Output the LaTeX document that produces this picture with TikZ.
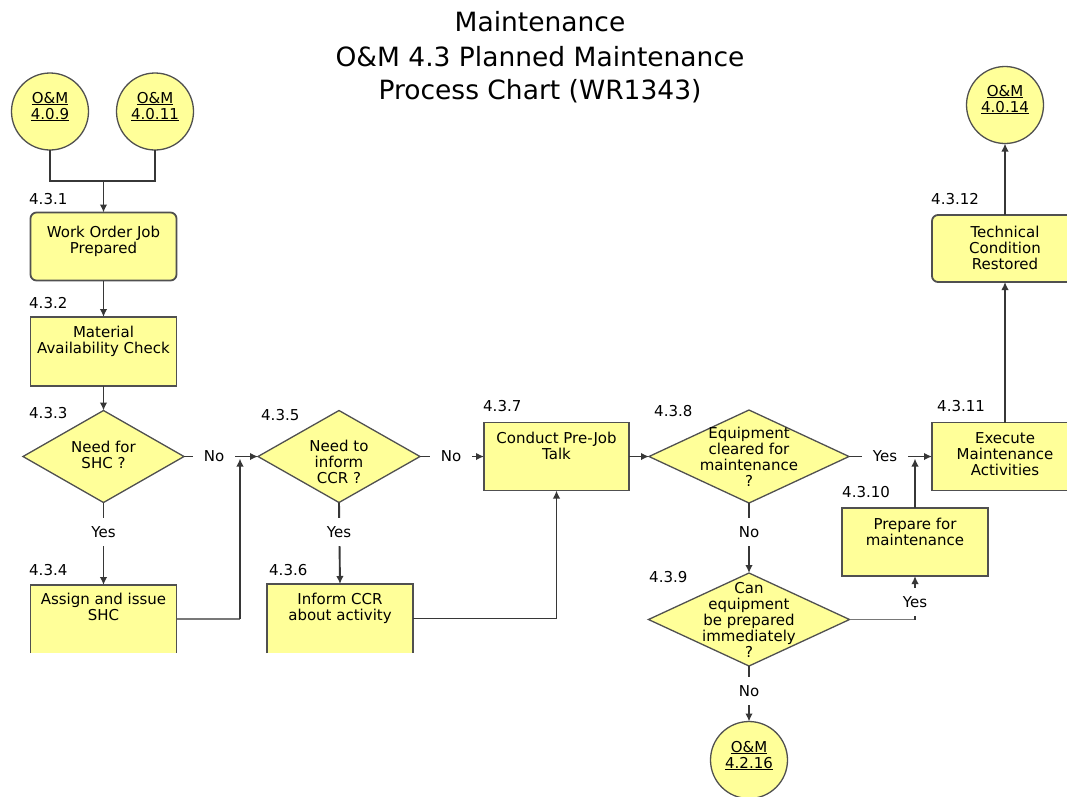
\documentclass[tikz,border=0pt]{standalone}
\usepackage{fontspec}
\setmainfont{DejaVu Sans}
\usetikzlibrary{shapes.geometric,arrows.meta}

\definecolor{boxfill}{RGB}{255,255,153}
\definecolor{edgegray}{RGB}{80,80,80}
\definecolor{wire}{RGB}{55,55,55}
\definecolor{lightwire}{RGB}{120,120,120}

% centred block of lines whose baseline is the first line
\newcommand\ptext[1]{\parbox[t]{170pt}{\centering #1}}

\begin{document}
\begin{tikzpicture}[x=1pt,y=-1pt,
  every node/.style={font=\fontsize{15}{16}\selectfont},
  procbox/.style={rectangle, draw=edgegray, line width=1.8pt, fill=boxfill,
    minimum width=146pt, minimum height=68pt, inner sep=0pt, outer sep=0pt},
  roundbox/.style={procbox, rounded corners=6pt},
  openbox/.style={rectangle, fill=boxfill, minimum width=146pt,
    minimum height=68pt, inner sep=0pt, outer sep=0pt},
  boxedge/.style={draw=edgegray, line width=1.8pt},
  decision/.style={diamond, draw=edgegray, line width=1.3pt, fill=boxfill,
    inner sep=0pt, outer sep=0pt},
  terminal/.style={circle, draw=edgegray, line width=1.3pt, fill=boxfill,
    minimum size=77pt, inner sep=0pt, outer sep=0pt},
  txt/.style={anchor=base, inner sep=0pt},
  num/.style={anchor=base west, inner sep=0pt},
  titletxt/.style={anchor=base, inner sep=0pt, font=\fontsize{26.5}{30}\selectfont},
  elabel/.style={fill=white, inner xsep=11pt, inner ysep=8pt},
  conn/.style={draw=wire, line width=1.9pt},
  arr/.style={conn, -{Latex[length=8pt,width=7.5pt]}},
  thinwire/.style={draw=lightwire, line width=1.1pt}]

\useasboundingbox (0,0) rectangle (1067,796);
\fill[white] (0,0) rectangle (1067,796);
\clip (0,0) rectangle (1067,796);

% ---- title ----
\node[titletxt] (title1) at (540,31) {Maintenance};
\node[titletxt] (title2) at (540,66) {O\&M 4.3 Planned Maintenance};
\node[titletxt] (title3) at (540,99) {Process Chart (WR1343)};

% ---- shapes ----
\node[terminal] (c409)  at (50,111.5) {};
\node[terminal] (c4011) at (155,111.5) {};
\node[terminal] (c4014) at (1005,105) {};
\node[terminal] (c4216) at (749,760) {};

\node[roundbox] (b431) at (103.5,246.5) {};
\node[procbox, minimum height=69pt] (b432) at (103.5,351.5) {};
\node[decision, minimum width=161pt, minimum height=92pt] (d433) at (103.5,456.5) {};
\node[openbox] (b434) at (103.5,619) {};
\node[decision, minimum width=162pt, minimum height=92pt] (d435) at (339,456.5) {};
\node[openbox, minimum height=69pt] (b436) at (340,618.5) {};
\node[procbox, minimum width=145pt] (b437) at (556.5,456.5) {};
\node[decision, minimum width=200pt, minimum height=93pt] (d438) at (749,456.5) {};
\node[decision, minimum width=201pt, minimum height=93pt] (d439) at (749,619.5) {};
\node[procbox] (b4310) at (915,542) {};
\node[procbox] (b4311) at (1005,456.5) {};
\node[roundbox, minimum height=67pt] (b4312) at (1005,248.5) {};

% the two lower boxes show no bottom edge
\draw[boxedge] (b434.south west) -- (b434.north west) -- (b434.north east) -- (b434.south east);
\draw[boxedge] (b436.south west) -- (b436.north west) -- (b436.north east) -- (b436.south east);

% ---- texts ----
\node[txt] (tc409)  at (50,103)    {\ptext{\underline{O\&M}\\\underline{4.0.9}}};
\node[txt] (tc4011) at (155,103)   {\ptext{\underline{O\&M}\\\underline{4.0.11}}};
\node[txt] (tc4014) at (1005,96)   {\ptext{\underline{O\&M}\\\underline{4.0.14}}};
\node[txt] (tc4216) at (749,752)   {\ptext{\underline{O\&M}\\\underline{4.2.16}}};

\node[txt] (t431)  at (103.5,237) {\ptext{Work Order Job\\Prepared}};
\node[txt] (t432)  at (103.5,337) {\ptext{Material\\Availability Check}};
\node[txt] (t433)  at (103.5,452) {\ptext{Need for\\SHC ?}};
\node[txt] (t434)  at (103.5,604) {\ptext{Assign and issue\\SHC}};
\node[txt] (t435)  at (339,451)   {\ptext{Need to\\inform\\CCR ?}};
\node[txt] (t436)  at (340,604)   {\ptext{Inform CCR\\about activity}};
\node[txt] (t437)  at (556.5,443) {\ptext{Conduct Pre-Job\\Talk}};
\node[txt] (t438)  at (749,438)   {\ptext{Equipment\\cleared for\\maintenance\\?}};
\node[txt] (t439)  at (749,593)   {\ptext{Can\\equipment\\be prepared\\immediately\\?}};
\node[txt] (t4310) at (915,529)   {\ptext{Prepare for\\maintenance}};
\node[txt] (t4311) at (1005,443)  {\ptext{Execute\\Maintenance\\Activities}};
\node[txt] (t4312) at (1005,237)  {\ptext{Technical\\Condition\\Restored}};

% ---- step numbers ----
\node[num] (n431)  at (29,204)  {4.3.1};
\node[num] (n432)  at (29,308)  {4.3.2};
\node[num] (n433)  at (29,418)  {4.3.3};
\node[num] (n434)  at (29,575)  {4.3.4};
\node[num] (n435)  at (261,420) {4.3.5};
\node[num] (n436)  at (269,575) {4.3.6};
\node[num] (n437)  at (483,411) {4.3.7};
\node[num] (n438)  at (654,416) {4.3.8};
\node[num] (n439)  at (649,582) {4.3.9};
\node[num] (n4310) at (842,497) {4.3.10};
\node[num] (n4311) at (937,411) {4.3.11};
\node[num] (n4312) at (931,204) {4.3.12};

% ---- connectors ----
\coordinate (j1) at (103.5,181);
\draw[conn] (c409.south) |- (j1);
\draw[conn] (c4011.south) |- (j1);
\draw[arr] (j1) -- (b431.north);
\draw[arr] (b431.south) -- (b432.north);
\draw[arr] (b432.south) -- (d433.north);
\draw[arr] (d433.south) -- (b434.north);
\draw[arr] (d433.east) -- (d435.west);
\node[elabel] (no1) at (214,456.5) {No};

\coordinate (rise1) at (240,619);
\draw[thinwire] (b434.east) -- (rise1);
\draw[arr, shorten >=2pt] (rise1) -- (rise1 |- d433.east);

\draw[arr] (d435.south) -- (b436.north);
\draw[arr] (d435.east) -- (b437.west);
\node[elabel] (no2) at (451,456.5) {No};
\draw[arr] (b436.east) -| (b437.south);

\draw[arr] (b437.east) -- (d438.west);
\draw[arr] (d438.east) -- (b4311.west);
\node[elabel] (yes3) at (885,456.5) {Yes};
\draw[arr, shorten >=2pt] (b4310.north) -- (b4310.north |- d438.east);

\draw[arr] (d438.south) -- (d439.north);
\coordinate (rise2) at (b4310.south |- d439.east);
\draw[thinwire] (d439.east) -- (rise2);
\draw[arr] (rise2) -- (b4310.south);
\draw[arr] (d439.south) -- (c4216.north);

\draw[arr] (b4311.north) -- (b4312.south);
\draw[arr] (b4312.north) -- (c4014.south);

% ---- branch labels ----
\node[elabel] (yes1) at (103.5,532) {Yes};
\node[elabel] (yes2) at (339,532) {Yes};
\node[elabel] (no4)  at (749,532) {No};
\node[elabel] (yes5) at (915,602) {Yes};
\node[elabel] (no5)  at (749,691) {No};
\end{tikzpicture}
\end{document}
